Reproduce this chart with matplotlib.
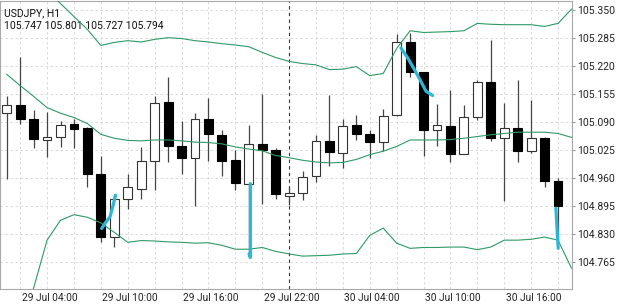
import numpy as np
import matplotlib.pyplot as plt
import matplotlib.transforms as mtransforms

plt.rcParams['font.family'] = ['Roboto', 'DejaVu Sans']

# hourly candles, 29 Jul 01:00 .. 30 Jul 18:00
opens = [105.110, 105.129, 105.096, 105.049, 105.056, 105.086, 105.076, 104.970, 104.824, 104.911,
         104.935, 104.999, 105.136, 105.033, 105.006, 105.096, 105.060, 105.001, 104.947, 105.039,
         105.024, 104.918, 104.926, 104.964, 105.046, 105.017, 105.082, 105.063, 105.043, 105.105,
         105.274, 105.205, 105.072, 105.081, 105.015, 105.101, 105.183, 105.052, 105.075, 105.022,
         105.052, 104.953]
highs = [105.150, 105.241, 105.118, 105.113, 105.093, 105.096, 105.077, 105.012, 104.922, 104.970,
         105.032, 105.149, 105.193, 105.091, 105.111, 105.146, 105.070, 105.024, 105.083, 105.155,
         105.029, 104.941, 104.975, 105.060, 105.153, 105.096, 105.107, 105.070, 105.119, 105.294,
         105.296, 105.205, 105.132, 105.164, 105.130, 105.187, 105.280, 105.133, 105.186, 105.141,
         105.055, 104.959]
lows = [104.957, 105.084, 105.030, 105.008, 105.032, 105.029, 104.939, 104.811, 104.800, 104.887,
        104.912, 104.933, 104.996, 104.970, 104.895, 104.999, 104.965, 104.932, 104.774, 104.899,
        104.911, 104.897, 104.910, 104.951, 104.988, 104.984, 105.047, 105.007, 105.022, 105.103,
        105.195, 105.012, 105.035, 104.998, 105.015, 105.095, 105.045, 104.907, 104.997, 105.018,
        104.939, 104.800]
closes = [105.130, 105.097, 105.050, 105.056, 105.083, 105.073, 104.969, 104.824, 104.912, 104.938,
          104.999, 105.134, 105.034, 105.006, 105.096, 105.062, 105.000, 104.948, 105.039, 105.024,
          104.923, 104.925, 104.962, 105.046, 105.019, 105.081, 105.063, 105.044, 105.104, 105.276,
          105.205, 105.072, 105.083, 105.015, 105.101, 105.183, 105.053, 105.075, 105.022, 105.052,
          104.952, 104.895]

# bollinger bands (one extra point past the last candle)
upper = [105.486, 105.454, 105.424, 105.394, 105.364, 105.334, 105.304, 105.267, 105.274, 105.278,
         105.275, 105.281, 105.285, 105.283, 105.278, 105.275, 105.271, 105.268, 105.264, 105.251,
         105.239, 105.230, 105.225, 105.222, 105.211, 105.212, 105.218, 105.197, 105.202, 105.260,
         105.301, 105.297, 105.298, 105.299, 105.301, 105.318, 105.316, 105.315, 105.315, 105.315,
         105.311, 105.318, 105.351]
middle = [105.200, 105.174, 105.149, 105.123, 105.110, 105.100, 105.086, 105.061, 105.052, 105.047,
          105.046, 105.048, 105.048, 105.046, 105.043, 105.042, 105.039, 105.032, 105.027, 105.023,
          105.012, 105.007, 105.001, 104.997, 104.995, 104.996, 105.003, 105.014, 105.022, 105.033,
          105.048, 105.048, 105.048, 105.049, 105.052, 105.056, 105.060, 105.063, 105.066, 105.066,
          105.066, 105.063, 105.054]
lower = [104.483, 104.594, 104.705, 104.816, 104.862, 104.875, 104.869, 104.856, 104.834, 104.811,
         104.815, 104.814, 104.812, 104.811, 104.809, 104.810, 104.804, 104.795, 104.795, 104.799,
         104.790, 104.784, 104.779, 104.780, 104.781, 104.784, 104.785, 104.827, 104.844, 104.809,
         104.797, 104.799, 104.799, 104.800, 104.800, 104.794, 104.800, 104.816, 104.816, 104.818,
         104.823, 104.816, 104.751]

# hand drawn cyan strokes (candle index, price)
stroke1_x = [7.06, 7.38, 7.68, 7.90, 8.09]
stroke1_y = [104.843, 104.858, 104.870, 104.895, 104.920]
stroke2_x = [18.12, 18.12, 18.02]
stroke2_y = [104.947, 104.776, 104.784]
stroke3_x = [29.32, 29.84, 30.43, 30.88, 31.18, 31.67]
stroke3_y = [105.261, 105.237, 105.205, 105.179, 105.161, 105.151]
stroke4_x = [40.84, 40.91, 41.01]
stroke4_y = [104.890, 104.851, 104.797]

tick_idx = [3, 9, 15, 21, 27, 33, 39]
tick_labels = ['29 Jul 04:00', '29 Jul 10:00', '29 Jul 16:00', '29 Jul 22:00',
               '30 Jul 04:00', '30 Jul 10:00', '30 Jul 16:00']
price_ticks = [105.350, 105.285, 105.220, 105.155, 105.090, 105.025,
               104.960, 104.895, 104.830, 104.765]
separator_idx = 21

fig = plt.figure(figsize=(6.25, 3.04), dpi=100)
ax = fig.add_axes([0.0, 0.049, 0.915, 0.949])

o = np.array(opens)
c = np.array(closes)
h = np.array(highs)
l = np.array(lows)
x = np.arange(len(o))

# grid
for p in price_ticks:
    ax.axhline(p, color='#d4d4d4', lw=0.6, ls=(0, (3, 3)), zorder=0)
for i in range(1, len(o), 2):
    if i != separator_idx:
        ax.axvline(i, color='#d4d4d4', lw=0.6, ls=(0, (3, 3)), zorder=0)
ax.axvline(separator_idx, color='#333333', lw=0.8, ls=(0, (3, 3)), zorder=1)

# candles
ax.vlines(x, l, h, color='#444444', lw=0.9, zorder=2)
up = c >= o
bottoms = np.minimum(o, c)
heights = np.maximum(np.abs(c - o), 0.001)
ax.bar(x[up], heights[up], bottom=bottoms[up], width=0.66,
       facecolor='white', edgecolor='#333333', lw=0.8, zorder=3)
ax.bar(x[~up], heights[~up], bottom=bottoms[~up], width=0.66,
       facecolor='black', edgecolor='black', lw=0.8, zorder=3)

# bands
xb = np.arange(len(upper))
for band in (upper, middle, lower):
    ax.plot(xb, band, color='#2e9a66', lw=0.8, zorder=4)

# strokes
for sx, sy in ((stroke1_x, stroke1_y), (stroke2_x, stroke2_y),
               (stroke3_x, stroke3_y), (stroke4_x, stroke4_y)):
    ax.plot(sx, sy, color='#2bb8d8', lw=2.3, solid_capstyle='round', zorder=5)

ax.set_xlim(-0.5, 42.03)
ax.set_ylim(104.7026, 105.3708)

ax.set_xticks(tick_idx)
ax.set_xticklabels(tick_labels)
ax.set_yticks(price_ticks)
ax.set_yticklabels(['%.3f' % p for p in price_ticks])
ax.yaxis.tick_right()
ax.tick_params(axis='x', length=0, pad=2.5, labelsize=7.3, labelcolor='#222222')
ax.tick_params(axis='y', length=2, pad=1.5, labelsize=7.5, labelcolor='#222222', color='#999999')
# time labels sit a little right of their candle
shift = mtransforms.ScaledTranslation(0.025, 0, fig.dpi_scale_trans)
for lab in ax.get_xticklabels():
    lab.set_transform(lab.get_transform() + shift)
for s in ax.spines.values():
    s.set_color('#a8a8a8')
    s.set_linewidth(0.8)

ax.text(0.007, 0.975, 'USDJPY, H1', transform=ax.transAxes, fontsize=7.5,
        color='#111111', va='top', ha='left')
ax.text(0.007, 0.928, '105.747 105.801 105.727 105.794', transform=ax.transAxes,
        fontsize=7.5, color='#111111', va='top', ha='left')

fig.savefig('out.png', dpi=100)
